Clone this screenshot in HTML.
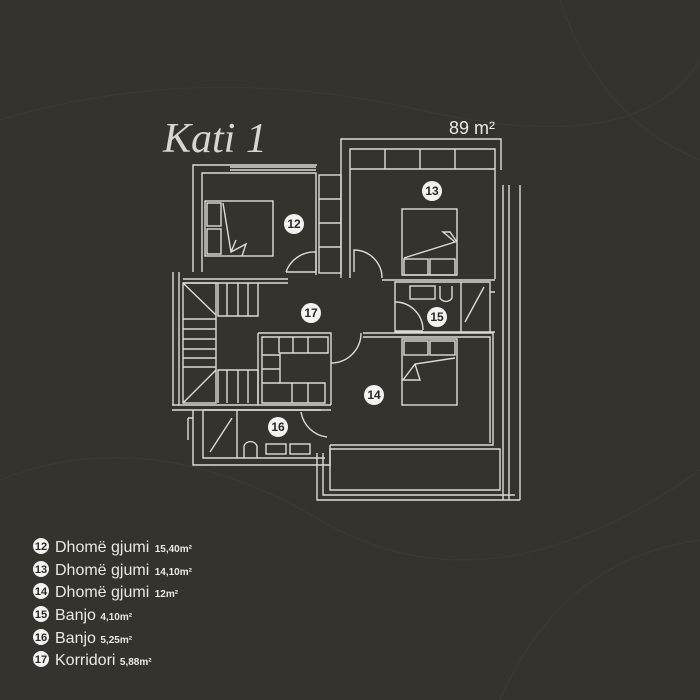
<!DOCTYPE html>
<html><head><style>
html,body{margin:0;padding:0;background:#36332f;}
svg{display:block}
</style></head><body>
<svg width="700" height="700" viewBox="0 0 700 700" xmlns="http://www.w3.org/2000/svg">
<rect width="700" height="700" fill="#36332f"/>
<g fill="none" stroke="#3c3935" stroke-width="1.2">
<path d="M0 120 Q200 60 420 110 T700 60"/>
<path d="M0 480 Q150 420 320 520 T700 470"/>
<path d="M500 700 Q560 560 700 540"/>
<path d="M560 0 Q600 120 700 160"/>
</g>
<text x="163" y="152" font-family="Liberation Serif,serif" font-style="italic" font-size="42" fill="#d9d6d1">Kati 1</text>
<text x="449" y="134" font-family="Liberation Sans,sans-serif" fill="#ece9e4" font-size="18">89 m²</text>
<g fill="none" stroke="#dedbd6" stroke-width="1.4">
<path d="M193 272 V165 H317"/>
<path d="M202 272 V173 H316 V275"/>
<path d="M230 167 H316 M230 170 H316"/>
<rect x="205" y="201" width="68" height="55"/>
<rect x="207" y="203" width="14" height="23"/><rect x="207" y="229" width="14" height="25"/>
<path d="M223 203 L231 252 L246 244 L242 256 M231 252 L236 240"/>
<rect x="319" y="175" width="22" height="98"/>
<path d="M319 199 H341 M319 223 H341 M319 247 H341"/>
<path d="M341 278 V139 H501 V170"/>
<path d="M350 278 V149 H495 V279"/>
<path d="M350 169 H495 M385 149 V169 M420 149 V169 M455 149 V169"/>
<rect x="402" y="209" width="55" height="66"/>
<path d="M404 258 L455 242 L443 232 L450 232 L457 242"/>
<rect x="404" y="259" width="24" height="16"/><rect x="430" y="259" width="25" height="16"/>
<path d="M503 185 V500 M509 185 V500 M520 185 V500"/>
<path d="M173 272 V405 M179 272 V405"/>
<path d="M183 283 H288 M183 279 H288"/>
<rect x="183" y="283" width="33" height="120"/>
<path d="M216 315 L183 283 M216 370 L183 403"/>
<path d="M218 283 V316 H258 V283 M227 283 V316 M238 283 V316 M248 283 V316"/>
<path d="M183 319 H216 M183 329 H216 M183 339 H216 M183 349 H216 M183 358 H216 M183 367 H216"/>
<path d="M218 403 V370 H258 V403 M227 370 V403 M238 370 V403 M248 370 V403"/>
<path d="M172 405 H331 M172 410 H331"/>
<path d="M286 272 H316 M286 272 A30 30 0 0 1 316 252 V272"/>
<path d="M354 272 V250 A28 28 0 0 1 382 278"/>
<path d="M382 280 H495"/>
<path d="M395 282 H490 V332 H395 Z"/>
<path d="M395 302 A28 28 0 0 1 423 330 M395 331 H423"/>
<rect x="410" y="286" width="25" height="13"/><path d="M440 286 V298 A7 7 0 0 0 452 298 V286"/>
<path d="M461 282 V332 M465 322 L484 287"/>
<path d="M490 292 H495 M490 332 H495"/>
<path d="M363 333 H493 V445 H330"/>
<path d="M363 337 H490 V443"/>
<path d="M361 333 A30 30 0 0 1 331 363"/>
<rect x="402" y="339" width="55" height="66"/>
<rect x="404" y="341" width="24" height="14"/><rect x="430" y="341" width="25" height="14"/>
<path d="M455 358 L415 364 L403 380 L420 380 L415 364"/>
<path d="M258 333 H331 V405 M258 333 V405"/>
<path d="M262 337 H328 V353 H280 V383 H325 V403 H262 Z"/>
<path d="M279 337 V353 M293 337 V353 M308 337 V353 M262 355 H280 M262 369 H280 M262 383 H280 M292 383 V403 M308 383 V403"/>
<path d="M193 410 V465 H330 V445 M203 410 V458 H325"/>
<path d="M203 410 H321"/>
<path d="M237 410 V458 M210 452 L232 418"/>
<path d="M244 458 V446 A7 7 0 0 1 257 446 V458"/>
<rect x="266" y="444" width="20" height="10"/><rect x="290" y="444" width="20" height="10"/>
<path d="M301 412 A30 30 0 0 0 327 437"/>
<path d="M188 418 V440 M193 418 H188"/>
<path d="M317 453 V500 H520 M323 453 V495 H515"/>
<path d="M330 449 H500 V490 H330 Z"/>
</g>
<g font-family="Liberation Sans,sans-serif" font-size="12" text-anchor="middle" font-weight="bold">
<circle cx="294" cy="224" r="10" fill="#f5f3ef"/><text x="294" y="228" fill="#2a2724">12</text>
<circle cx="432" cy="191" r="10" fill="#f5f3ef"/><text x="432" y="195" fill="#2a2724">13</text>
<circle cx="311" cy="313" r="10" fill="#f5f3ef"/><text x="311" y="317" fill="#2a2724">17</text>
<circle cx="437" cy="317" r="10" fill="#f5f3ef"/><text x="437" y="321" fill="#2a2724">15</text>
<circle cx="374" cy="395" r="10" fill="#f5f3ef"/><text x="374" y="399" fill="#2a2724">14</text>
<circle cx="278" cy="427" r="10" fill="#f5f3ef"/><text x="278" y="431" fill="#2a2724">16</text>
</g>
<g font-family="Liberation Sans,sans-serif">
<g font-size="11" text-anchor="middle" font-weight="bold">
<circle cx="41" cy="546" r="8" fill="#f5f3ef"/><text x="41" y="550" fill="#2a2724">12</text>
<circle cx="41" cy="569" r="8" fill="#f5f3ef"/><text x="41" y="573" fill="#2a2724">13</text>
<circle cx="41" cy="591" r="8" fill="#f5f3ef"/><text x="41" y="595" fill="#2a2724">14</text>
<circle cx="41" cy="614" r="8" fill="#f5f3ef"/><text x="41" y="618" fill="#2a2724">15</text>
<circle cx="41" cy="637" r="8" fill="#f5f3ef"/><text x="41" y="641" fill="#2a2724">16</text>
<circle cx="41" cy="659" r="8" fill="#f5f3ef"/><text x="41" y="663" fill="#2a2724">17</text>
</g>
<g fill="#ece9e4" font-size="16">
<text x="55" y="552">Dhomë gjumi <tspan font-size="10" font-weight="bold" dx="1">15,40m²</tspan></text>
<text x="55" y="575">Dhomë gjumi <tspan font-size="10" font-weight="bold" dx="1">14,10m²</tspan></text>
<text x="55" y="597">Dhomë gjumi <tspan font-size="10" font-weight="bold" dx="1">12m²</tspan></text>
<text x="55" y="620">Banjo <tspan font-size="10" font-weight="bold">4,10m²</tspan></text>
<text x="55" y="643">Banjo <tspan font-size="10" font-weight="bold">5,25m²</tspan></text>
<text x="55" y="665">Korridori <tspan font-size="10" font-weight="bold">5,88m²</tspan></text>
</g>
</g>
</svg>
</body></html>
